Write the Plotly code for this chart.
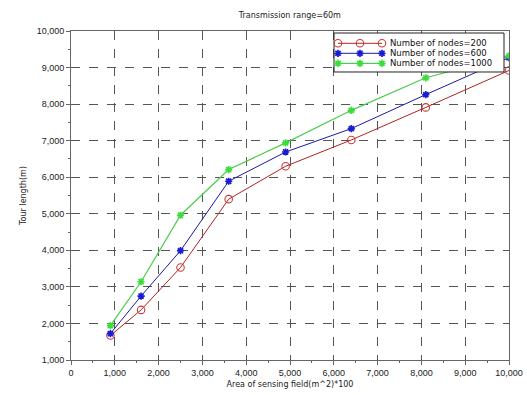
import plotly.graph_objects as go

area = [900, 1600, 2500, 3600, 4900, 6400, 8100, 10000]
nodes200 = [1670, 2370, 3530, 5400, 6300, 7020, 7910, 8920]
nodes600 = [1720, 2750, 3990, 5890, 6690, 7330, 8260, 9270]
nodes1000 = [1940, 3140, 4960, 6210, 6940, 7830, 8720, 9320]

names = ["Number of nodes=200", "Number of nodes=600", "Number of nodes=1000"]

styles = [
    dict(line=dict(color="#b22222", width=1),
         marker=dict(symbol="circle-open", size=7.5, color="#c83a3a", line=dict(width=1.1))),
    dict(line=dict(color="#1a1aa8", width=1),
         marker=dict(symbol="asterisk", size=6, color="#1a1ad0", line=dict(width=1.7, color="#1a1ad0"))),
    dict(line=dict(color="#4ccc4c", width=1.2),
         marker=dict(symbol="asterisk", size=6, color="#3ddc3d", line=dict(width=1.7, color="#3ddc3d"))),
]

fig = go.Figure()
for series, name, st in zip([nodes200, nodes600, nodes1000], names, styles):
    fig.add_trace(go.Scatter(x=area, y=series, name=name, mode="lines+markers",
                             showlegend=False, **st))

# Scilab-style legend box drawn on an overlay axis spanning [0,1] in both directions
box_x0, box_x1, box_y0, box_y1 = 0.6005, 0.9886, 0.8754, 0.9939
fig.add_trace(go.Scatter(x=[box_x0, box_x1, box_x1, box_x0, box_x0],
                         y=[box_y0, box_y0, box_y1, box_y1, box_y0],
                         mode="lines", fill="toself", fillcolor="white",
                         line=dict(color="#222222", width=1),
                         xaxis="x2", yaxis="y2", showlegend=False, hoverinfo="skip"))
row_y = [0.9626, 0.9322, 0.9018]
glyph_x = [0.6096, 0.6598, 0.7100]
for yy, name, st in zip(row_y, names, styles):
    fig.add_trace(go.Scatter(x=glyph_x, y=[yy] * 3, mode="lines+markers",
                             xaxis="x2", yaxis="y2", showlegend=False, hoverinfo="skip", **st))
    fig.add_annotation(x=0.7237, y=yy, xref="x2", yref="y2", text=name, showarrow=False,
                       xanchor="left", yanchor="middle",
                       font=dict(family="DejaVu Sans", size=8.5, color="#111111"))

axis_common = dict(
    showline=True, linecolor="#666666", linewidth=1, mirror=True,
    showgrid=True, gridcolor="#555555", griddash="dash", gridwidth=1,
    ticks="outside", ticklen=4, tickcolor="#666666",
    tickformat=",", zeroline=False, automargin=False,
    tickfont=dict(family="Liberation Sans, Arial", size=9, color="#222222"),
    minor=dict(ticks="outside", ticklen=2, tickcolor="#666666", dtick=500, showgrid=False),
)

fig.update_xaxes(range=[0, 10000], dtick=1000,
                 title=dict(text="Area of sensing field(m^2)*100", standoff=4,
                            font=dict(family="DejaVu Sans", size=8, color="#222222")),
                 **axis_common)
fig.update_yaxes(range=[1000, 10000], dtick=1000,
                 title=dict(text="Tour length(m)", standoff=8,
                            font=dict(family="DejaVu Sans", size=8, color="#222222")),
                 **axis_common)

fig.update_layout(
    width=527, height=395,
    margin=dict(l=71, r=18, t=31, b=35),
    paper_bgcolor="white", plot_bgcolor="white",
    xaxis2=dict(overlaying="x", range=[0, 1], visible=False, fixedrange=True),
    yaxis2=dict(overlaying="y", range=[0, 1], visible=False, fixedrange=True),
    title=dict(text="Transmission range=60m", x=0.55, xanchor="center", y=0.962, yanchor="middle",
               font=dict(family="DejaVu Sans", size=8, color="#222222")),
    showlegend=False,
)

fig.write_html("out.html")
